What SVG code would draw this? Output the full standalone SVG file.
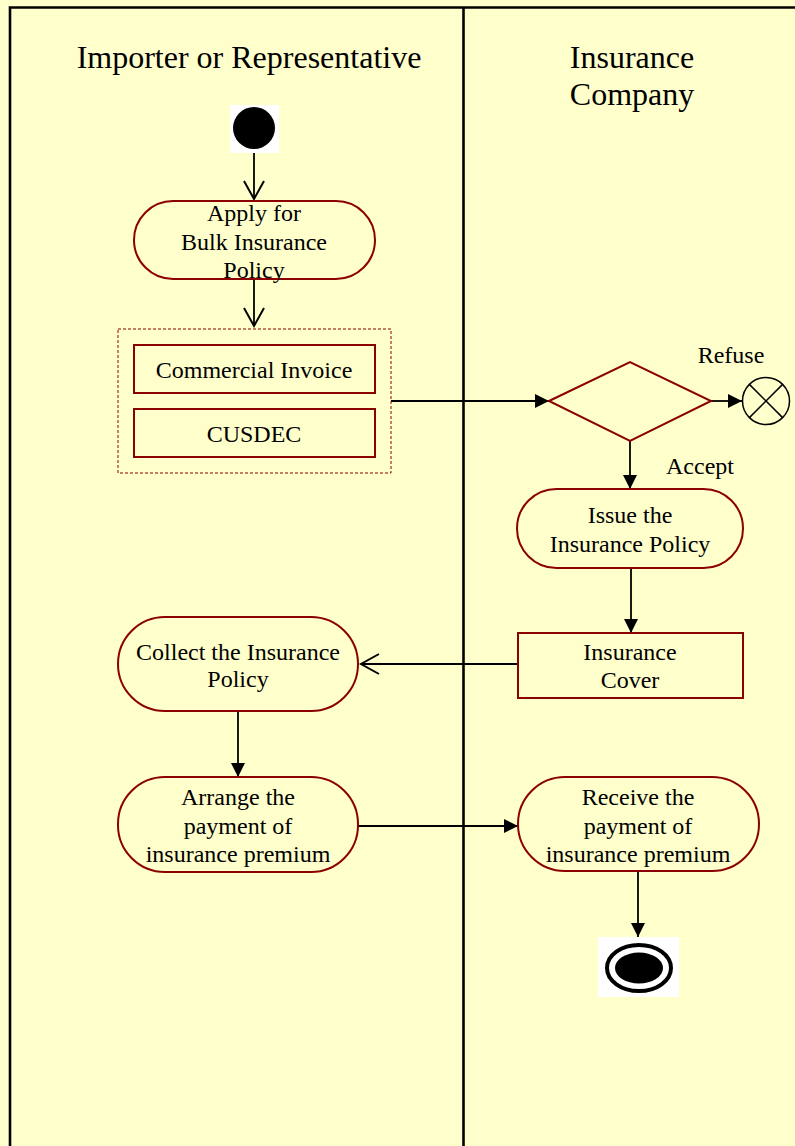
<svg xmlns="http://www.w3.org/2000/svg" width="795" height="1146" viewBox="0 0 795 1146">
<defs>
<style>
.lane{stroke:#000;stroke-width:2.6;fill:none}
.act{fill:#FFFFCC;stroke:#8B0000;stroke-width:2}
.obj{fill:#FFFFCC;stroke:#8B0000;stroke-width:2}
.t{font-family:"Liberation Serif","Times New Roman",serif;font-size:24px;fill:#000;text-anchor:middle}
.h{font-family:"Liberation Serif","Times New Roman",serif;font-size:32px;fill:#000;text-anchor:middle}
.c{stroke:#000;stroke-width:1.8;fill:none}
</style>
<marker id="fill" markerUnits="userSpaceOnUse" markerWidth="15" markerHeight="15" refX="14" refY="7" orient="auto">
<path d="M0,0 L14,7 L0,14 z" fill="#000"/>
</marker>
<marker id="open" markerUnits="userSpaceOnUse" markerWidth="24" markerHeight="24" refX="19" refY="11" orient="auto">
<path d="M1,1 L19,11 L1,21" fill="none" stroke="#000" stroke-width="2"/>
</marker>
</defs>
<rect x="0" y="0" width="795" height="1146" fill="#FFFFCC"/>
<g id="lanes">
<path class="lane" d="M10,1146 L10,7.5 L795,7.5"/>
<line class="lane" x1="463.5" y1="7.5" x2="463.5" y2="1146" stroke-width="3"/>
<text class="h" x="249" y="68">Importer or Representative</text>
<text class="h" x="632" y="68">Insurance</text>
<text class="h" x="632" y="105">Company</text>
</g>
<g id="connectors">
<line class="c" x1="254" y1="153" x2="254" y2="199" marker-end="url(#open)"/>
<line class="c" x1="254" y1="279" x2="254" y2="326" marker-end="url(#open)"/>
<line class="c" x1="391" y1="401" x2="549" y2="401" marker-end="url(#fill)"/>
<line class="c" x1="711" y1="401" x2="742" y2="401" marker-end="url(#fill)"/>
<line class="c" x1="630" y1="441" x2="630" y2="489" marker-end="url(#fill)"/>
<line class="c" x1="631" y1="568" x2="631" y2="633" marker-end="url(#fill)"/>
<line class="c" x1="518" y1="664" x2="361" y2="664" marker-end="url(#open)"/>
<line class="c" x1="238" y1="711" x2="238" y2="777" marker-end="url(#fill)"/>
<line class="c" x1="358" y1="826" x2="518" y2="826" marker-end="url(#fill)"/>
<line class="c" x1="638" y1="871" x2="638" y2="937" marker-end="url(#fill)"/>
</g>
<g id="start">
<rect x="230" y="105" width="49" height="48" fill="#fff"/>
<circle cx="254" cy="128" r="21" fill="#000"/>
</g>
<g id="apply">
<rect class="act" x="134" y="201" width="241" height="78" rx="39" ry="39"/>
<text class="t" x="254" y="221">Apply for</text>
<text class="t" x="254" y="250">Bulk Insurance</text>
<text class="t" x="254" y="278">Policy</text>
</g>
<g id="docs">
<rect x="118" y="329" width="273" height="144" fill="none" stroke="#8B0000" stroke-width="1" stroke-dasharray="3,2"/>
</g>
<g id="invoice">
<rect class="obj" x="134" y="345" width="241" height="48"/>
<text class="t" x="254" y="378">Commercial Invoice</text>
</g>
<g id="cusdec">
<rect class="obj" x="134" y="409" width="241" height="48"/>
<text class="t" x="254" y="442">CUSDEC</text>
</g>
<g id="decision">
<polygon class="act" points="549,401 630,362 711,401 630,441"/>
<text class="t" x="731" y="363">Refuse</text>
<text class="t" x="700" y="474">Accept</text>
</g>
<g id="flowfinal">
<circle cx="766" cy="401" r="23.5" fill="#FFFFCC" stroke="#000" stroke-width="1.5"/>
<line x1="749.4" y1="384.4" x2="782.6" y2="417.6" stroke="#000" stroke-width="1.5"/>
<line x1="782.6" y1="384.4" x2="749.4" y2="417.6" stroke="#000" stroke-width="1.5"/>
</g>
<g id="issue">
<rect class="act" x="517" y="489" width="226" height="79" rx="39.5" ry="39.5"/>
<text class="t" x="630" y="523">Issue the</text>
<text class="t" x="630" y="552">Insurance Policy</text>
</g>
<g id="cover">
<rect class="obj" x="518" y="633" width="225" height="65"/>
<text class="t" x="630" y="660">Insurance</text>
<text class="t" x="630" y="688">Cover</text>
</g>
<g id="collect">
<rect class="act" x="118" y="617" width="240" height="94" rx="47" ry="47"/>
<text class="t" x="238" y="660">Collect the Insurance</text>
<text class="t" x="238" y="687">Policy</text>
</g>
<g id="arrange">
<rect class="act" x="118" y="777" width="240" height="95" rx="47" ry="47"/>
<text class="t" x="238" y="805">Arrange the</text>
<text class="t" x="238" y="834">payment of</text>
<text class="t" x="238" y="862">insurance premium</text>
</g>
<g id="receive">
<rect class="act" x="518" y="777" width="241" height="94" rx="47" ry="47"/>
<text class="t" x="638" y="805">Receive the</text>
<text class="t" x="638" y="834">payment of</text>
<text class="t" x="638" y="862">insurance premium</text>
</g>
<g id="end">
<rect x="598" y="937" width="81" height="60" fill="#fff"/>
<ellipse cx="639" cy="968" rx="32" ry="23" fill="#fff" stroke="#000" stroke-width="4"/>
<ellipse cx="639" cy="968" rx="24" ry="15.5" fill="#000"/>
</g>
</svg>
